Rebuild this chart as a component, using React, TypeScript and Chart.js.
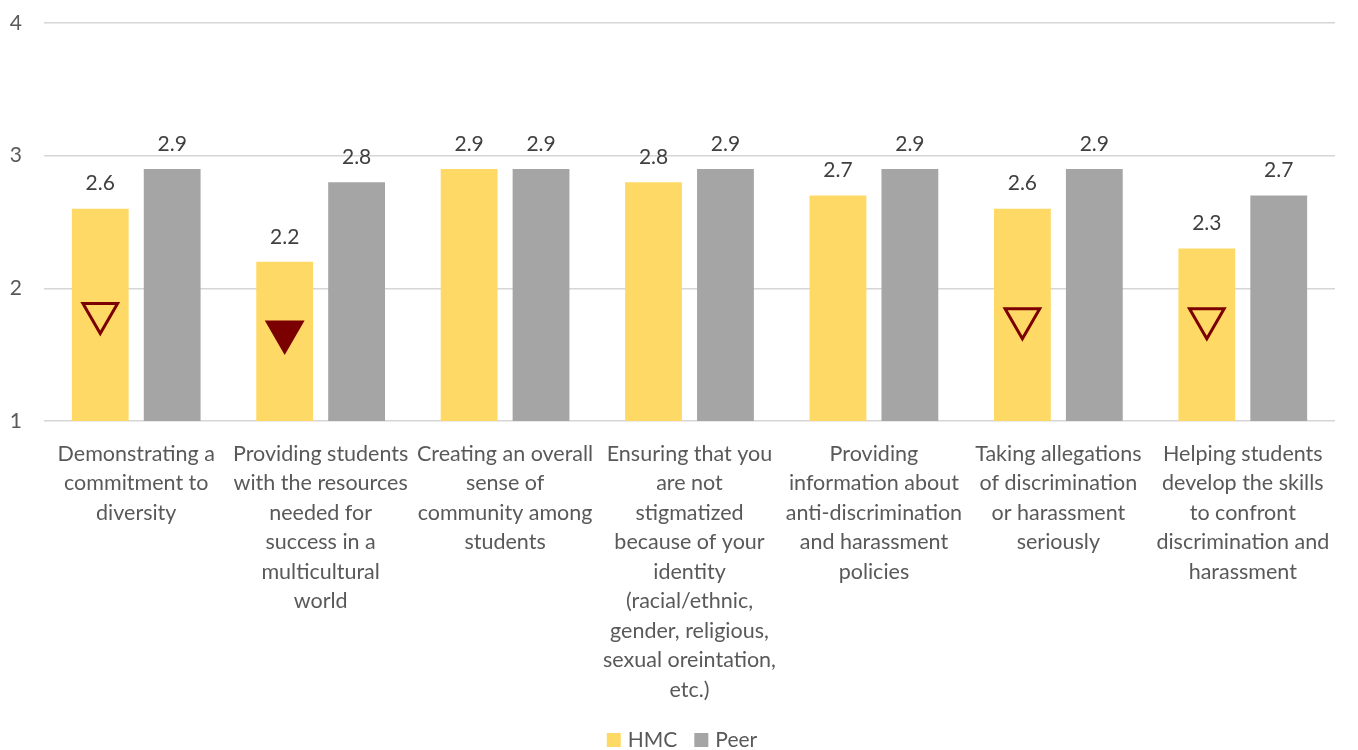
import React, { useEffect, useRef } from "react";
import { Chart, registerables } from "chart.js";

Chart.register(...registerables);

const categories: string[][] = [
  ["Demonstrating a", "commitment to", "diversity"],
  ["Providing students", "with the resources", "needed for", "success in a", "multicultural", "world"],
  ["Creating an overall", "sense of", "community among", "students"],
  ["Ensuring that you", "are not", "stigmatized", "because of your", "identity", "(racial/ethnic,", "gender, religious,", "sexual oreintation,", "etc.)"],
  ["Providing", "information about", "anti-discrimination", "and harassment", "policies"],
  ["Taking allegations", "of discrimination", "or harassment", "seriously"],
  ["Helping students", "develop the skills", "to confront", "discrimination and", "harassment"],
];

const hmcValues = [2.6, 2.2, 2.9, 2.8, 2.7, 2.6, 2.3];
const peerValues = [2.9, 2.8, 2.9, 2.9, 2.9, 2.9, 2.7];
const hollowMarkers = [1.81, null, null, null, null, 1.77, 1.77];
const filledMarkers = [null, 1.67, null, null, null, null, null];
const yTicks = [1, 2, 3, 4];

const FONT = "Lato, 'Open Sans', sans-serif";
const HMC_COLOR = "#FFD966";
const PEER_COLOR = "#A5A5A5";
const MARK_COLOR = "#7B0000";

const markerAlign = {
  id: "markerAlign",
  afterDatasetsUpdate(chart: any) {
    const bars = chart.getDatasetMeta(0);
    [2, 3].forEach((di) => {
      const meta = chart.getDatasetMeta(di);
      meta.data.forEach((pt: any, i: number) => {
        if (bars.data[i]) pt.x = bars.data[i].x;
      });
    });
  },
};

const valueLabels = {
  id: "valueLabels",
  afterDatasetsDraw(chart: any) {
    const ctx = chart.ctx;
    ctx.save();
    ctx.font = `21px ${FONT}`;
    ctx.fillStyle = "#404040";
    ctx.textAlign = "center";
    ctx.textBaseline = "middle";
    [0, 1].forEach((di) => {
      const meta = chart.getDatasetMeta(di);
      const data = chart.data.datasets[di].data as number[];
      meta.data.forEach((bar: any, i: number) => {
        ctx.fillText(data[i].toFixed(1), bar.x, bar.y - 25);
      });
    });
    ctx.restore();
  },
};

const customLegend = {
  id: "customLegend",
  afterDraw(chart: any) {
    const ctx = chart.ctx;
    ctx.save();
    ctx.font = `21px ${FONT}`;
    ctx.textBaseline = "middle";
    ctx.textAlign = "left";
    const items = [0, 1].map((di) => ({
      text: chart.data.datasets[di].label as string,
      color: chart.data.datasets[di].backgroundColor as string,
    }));
    const box = 14;
    const gap = 7;
    const spacing = 17;
    const widths = items.map((it) => box + gap + ctx.measureText(it.text).width);
    const total = widths.reduce((a, b) => a + b, 0) + spacing * (items.length - 1);
    let x = chart.width / 2 - total / 2 + 3;
    const cy = 740;
    items.forEach((it, i) => {
      ctx.fillStyle = it.color;
      ctx.fillRect(x, cy - box / 2, box, box);
      ctx.fillStyle = "#595959";
      ctx.fillText(it.text, x + box + gap, cy);
      x += widths[i] + spacing;
    });
    ctx.restore();
  },
};

export default function App() {
  const canvasRef = useRef<HTMLCanvasElement | null>(null);

  useEffect(() => {
    document.body.style.margin = "0";
    const canvas = canvasRef.current;
    if (!canvas) return;
    const chart = new Chart(canvas, {
      type: "bar",
      data: {
        labels: categories as any,
        datasets: [
          {
            label: "HMC",
            data: hmcValues,
            backgroundColor: HMC_COLOR,
            categoryPercentage: 0.78,
            barPercentage: 0.79,
            order: 1,
          } as any,
          {
            label: "Peer",
            data: peerValues,
            backgroundColor: PEER_COLOR,
            categoryPercentage: 0.78,
            barPercentage: 0.79,
            order: 1,
          } as any,
          {
            type: "line",
            label: "hollow",
            data: hollowMarkers,
            showLine: false,
            pointStyle: "triangle",
            rotation: 180,
            pointRadius: 20,
            pointBorderWidth: 3,
            pointBorderColor: MARK_COLOR,
            pointBackgroundColor: "rgba(0,0,0,0)",
            order: 0,
          } as any,
          {
            type: "line",
            label: "filled",
            data: filledMarkers,
            showLine: false,
            pointStyle: "triangle",
            rotation: 180,
            pointRadius: 20,
            pointBorderWidth: 3,
            pointBorderColor: MARK_COLOR,
            pointBackgroundColor: MARK_COLOR,
            order: 0,
          } as any,
        ],
      },
      options: {
        responsive: false,
        animation: false,
        events: [],
        layout: { padding: { top: 20, right: 20, left: 0, bottom: 0 } },
        font: { family: FONT },
        plugins: {
          legend: { display: false },
          tooltip: { enabled: false },
        },
        scales: {
          x: {
            grid: { display: false },
            border: { display: false },
            ticks: {
              autoSkip: false,
              maxRotation: 0,
              minRotation: 0,
              color: "#595959",
              padding: 10,
              font: { family: FONT, size: 21.5, lineHeight: 1.372 },
            },
            afterFit(scale: any) {
              scale.height = 750 - 421;
              scale.paddingLeft = 0;
              scale.paddingRight = 0;
            },
          },
          y: {
            min: 1,
            max: 4,
            afterBuildTicks(scale: any) {
              scale.ticks = yTicks.map((v) => ({ value: v }));
            },
            grid: { color: "#D6D6D6", lineWidth: 1.5, drawTicks: false },
            border: { display: false },
            ticks: {
              color: "#595959",
              padding: 22,
              font: { family: FONT, size: 21 },
            },
            afterFit(scale: any) {
              scale.width = 44;
              scale.paddingTop = 0;
              scale.paddingBottom = 0;
            },
          },
        },
      } as any,
      plugins: [markerAlign, valueLabels, customLegend],
    });
    return () => chart.destroy();
  }, []);

  return (
    <div style={{ width: 1358, height: 750 }}>
      <canvas ref={canvasRef} width={1358} height={750} />
    </div>
  );
}
